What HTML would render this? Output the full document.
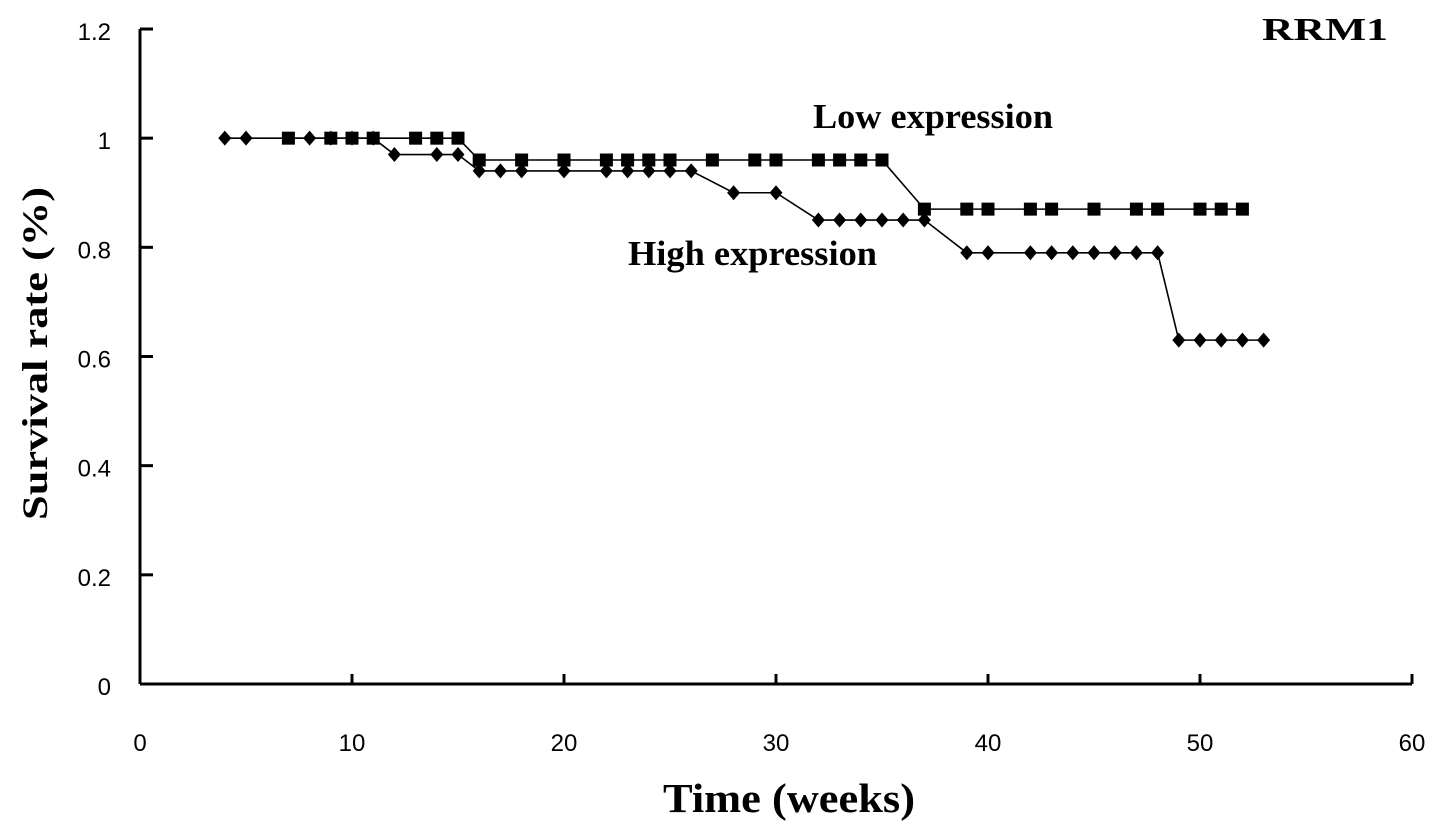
<!DOCTYPE html>
<html><head><meta charset="utf-8"><style>
html,body{margin:0;padding:0;background:#fff;}
svg{display:block;font-family:"Liberation Serif",serif;}
.sans{font-family:"Liberation Sans",sans-serif;}
</style></head><body>
<svg id="chart" width="1441" height="834" viewBox="0 0 1441 834">
<g id="axes"></g>
<g id="series"></g>
<text x="1262" y="40" font-size="32" font-weight="bold" textLength="126" lengthAdjust="spacingAndGlyphs">RRM1</text>
<text x="813" y="128" font-size="35" font-weight="bold" textLength="240" lengthAdjust="spacingAndGlyphs">Low expression</text>
<text x="628" y="265" font-size="35" font-weight="bold" textLength="249" lengthAdjust="spacingAndGlyphs">High expression</text>
<text x="663" y="812" font-size="41" font-weight="bold" textLength="252" lengthAdjust="spacingAndGlyphs">Time (weeks)</text>
<text transform="translate(47,520) rotate(-90)" font-size="36" font-weight="bold" textLength="333" lengthAdjust="spacingAndGlyphs">Survival rate (%)</text>
</svg>
<script>
const xTicks = [0,10,20,30,40,50,60];
const yTicks = [0,0.2,0.4,0.6,0.8,1,1.2];
const lowWeeks = [7,9,10,11,13,14,15,16,18,20,22,23,24,25,27,29,30,32,33,34,35,37,39,40,42,43,45,47,48,50,51,52];
const lowSurv  = [1,1,1,1,1,1,1,0.96,0.96,0.96,0.96,0.96,0.96,0.96,0.96,0.96,0.96,0.96,0.96,0.96,0.96,0.87,0.87,0.87,0.87,0.87,0.87,0.87,0.87,0.87,0.87,0.87];
const highWeeks = [4,5,8,9,10,11,12,14,15,16,17,18,20,22,23,24,25,26,28,30,32,33,34,35,36,37,39,40,42,43,44,45,46,47,48,49,50,51,52,53];
const highSurv  = [1,1,1,1,1,1,0.97,0.97,0.97,0.94,0.94,0.94,0.94,0.94,0.94,0.94,0.94,0.94,0.90,0.90,0.85,0.85,0.85,0.85,0.85,0.85,0.79,0.79,0.79,0.79,0.79,0.79,0.79,0.79,0.79,0.63,0.63,0.63,0.63,0.63];

const X0=140,X1=1412,Y0=684,Y1=29;
function xs(v){return X0+(v/60)*(X1-X0);}
function ys(v){return Y0-(v/1.2)*(Y0-Y1);}
const NS="http://www.w3.org/2000/svg";
function mk(tag,attrs,parent){const e=document.createElementNS(NS,tag);for(const k in attrs)e.setAttribute(k,attrs[k]);parent.appendChild(e);return e;}
const axes=document.getElementById('axes');
let e=mk('line',{x1:X0,y1:Y0,x2:X1,y2:Y0,stroke:'#000','stroke-width':3},axes);


e=mk('line',{x1:X0,y1:Y0,x2:X0,y2:Y1,stroke:'#000','stroke-width':3},axes);


xTicks.forEach(t=>{
  const x=xs(t);
  let l=mk('line',{x1:x,y1:Y0,x2:x,y2:Y0-10,stroke:'#000','stroke-width':3},axes);
  
  
  let tx=mk('text',{x:x,y:751,'text-anchor':'middle','font-size':24,'class':'sans'},axes);
  tx.textContent=t;
  
  
});
yTicks.forEach(t=>{
  const y=ys(t);
  let l=mk('line',{x1:X0,y1:y,x2:X0+13,y2:y,stroke:'#000','stroke-width':3},axes);
  
  
  let tx=mk('text',{x:111,y:y+11,'text-anchor':'end','font-size':24,'class':'sans'},axes);
  tx.textContent=String(t);
  
  
});
const series=document.getElementById('series');
function draw(wk,sv,kind,name){
  const pts=wk.map((w,i)=>xs(w)+','+ys(sv[i])).join(' ');
  let pl=mk('polyline',{points:pts,fill:'none',stroke:'#000','stroke-width':1.6},series);
  
  
  wk.forEach((w,i)=>{
    const x=xs(w),y=ys(sv[i]);let m;
    if(kind==='sq'){m=mk('rect',{x:x-6.5,y:y-6.5,width:13,height:13,fill:'#000'},series);}
    else{m=mk('polygon',{points:`${x},${y-7.5} ${x+6.5},${y} ${x},${y+7.5} ${x-6.5},${y}`,fill:'#000'},series);}
    
    
  });
}
draw(highWeeks,highSurv,'di','high-expression');
draw(lowWeeks,lowSurv,'sq','low-expression');
</script>
</body></html>
